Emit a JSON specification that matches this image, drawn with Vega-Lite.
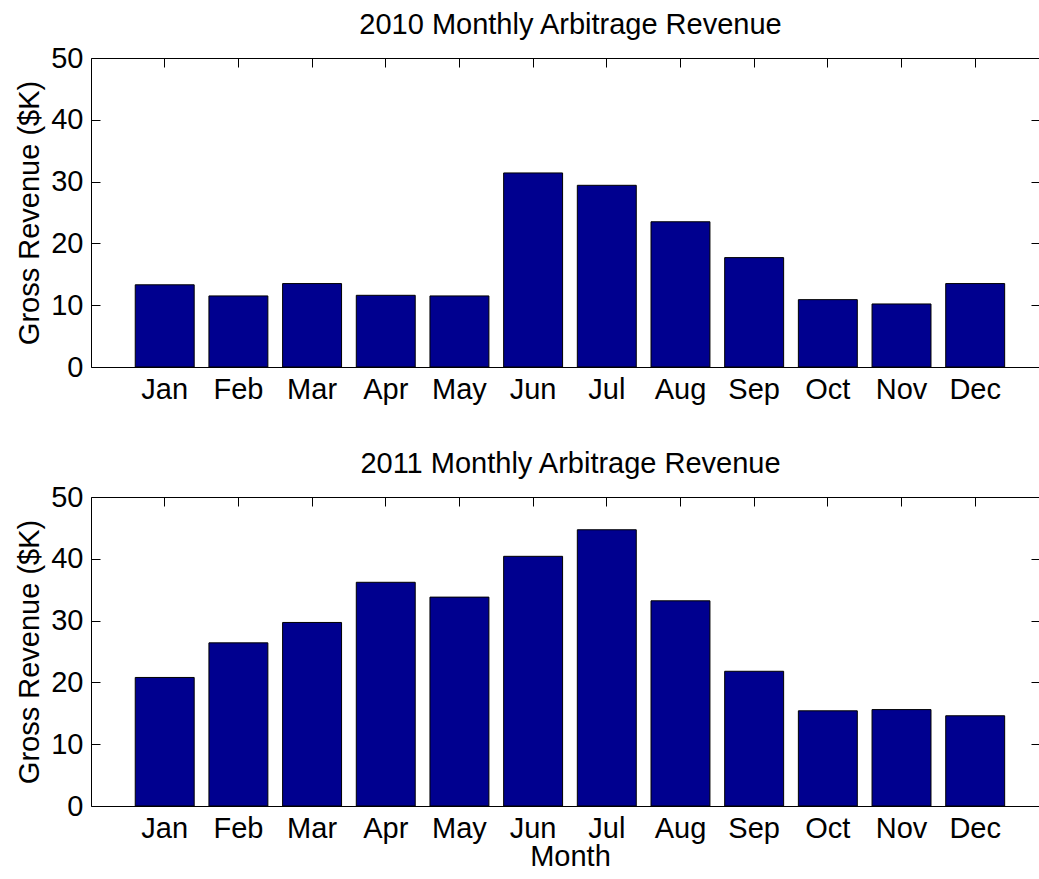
{
  "$schema": "https://vega.github.io/schema/vega-lite/v6.json",
  "padding": {"left": 15, "top": 11, "right": 0, "bottom": 0},
  "background": "white",
  "datasets": {
    "y2010": [
      {"month": "Jan", "revenue": 13.3},
      {"month": "Feb", "revenue": 11.5},
      {"month": "Mar", "revenue": 13.5},
      {"month": "Apr", "revenue": 11.6},
      {"month": "May", "revenue": 11.5},
      {"month": "Jun", "revenue": 31.4},
      {"month": "Jul", "revenue": 29.4},
      {"month": "Aug", "revenue": 23.5},
      {"month": "Sep", "revenue": 17.7},
      {"month": "Oct", "revenue": 10.9},
      {"month": "Nov", "revenue": 10.2},
      {"month": "Dec", "revenue": 13.5}
    ],
    "y2011": [
      {"month": "Jan", "revenue": 20.8},
      {"month": "Feb", "revenue": 26.4},
      {"month": "Mar", "revenue": 29.7},
      {"month": "Apr", "revenue": 36.2},
      {"month": "May", "revenue": 33.8},
      {"month": "Jun", "revenue": 40.4},
      {"month": "Jul", "revenue": 44.7},
      {"month": "Aug", "revenue": 33.2},
      {"month": "Sep", "revenue": 21.8},
      {"month": "Oct", "revenue": 15.4},
      {"month": "Nov", "revenue": 15.6},
      {"month": "Dec", "revenue": 14.6}
    ]
  },
  "config": {
    "font": "Liberation Sans",
    "view": {"stroke": null},
    "axis": {
      "labelFont": "Liberation Sans",
      "titleFont": "Liberation Sans",
      "labelFontSize": 29,
      "titleFontSize": 29,
      "titleFontWeight": "normal",
      "labelColor": "black",
      "titleColor": "black",
      "domainColor": "black",
      "domainWidth": 1,
      "tickColor": "black",
      "tickWidth": 1,
      "grid": false,
      "labelFlush": false,
      "labelOverlap": false
    },
    "title": {"font": "Liberation Sans", "fontSize": 29, "fontWeight": "normal", "color": "black"},
    "concat": {"spacing": 46}
  },
  "vconcat": [
    {
      "title": {"text": "2010 Monthly Arbitrage Revenue", "offset": 4, "dx": 5},
      "width": 949,
      "height": 309,
      "data": {"name": "y2010"},
      "layer": [
        {
          "mark": {"type": "bar", "fill": "#00008F", "stroke": "black", "strokeWidth": 1},
          "encoding": {
            "x": {"field": "month", "type": "nominal", "sort": ["Jan","Feb","Mar","Apr","May","Jun","Jul","Aug","Sep","Oct","Nov","Dec"],
                  "scale": {"paddingInner": 0.2, "paddingOuter": 0.54, "align": 0.556},
                  "axis": {"orient": "bottom", "title": null, "ticks": false, "labelAngle": 0, "labelPadding": 8, "domain": true}},
            "y": {"field": "revenue", "type": "quantitative", "scale": {"domain": [0, 50], "nice": false},
                  "axis": {"orient": "left", "values": [0,10,20,30,40,50], "tickSize": -9, "labelPadding": 17, "title": "Gross Revenue ($K)", "titlePadding": 6, "domain": true}}
          }
        },
        {
          "mark": {"type": "bar", "opacity": 0},
          "encoding": {
            "x": {"field": "month", "type": "nominal", "sort": ["Jan","Feb","Mar","Apr","May","Jun","Jul","Aug","Sep","Oct","Nov","Dec"],
                  "scale": {"paddingInner": 0.2, "paddingOuter": 0.54, "align": 0.556},
                  "axis": {"orient": "top", "title": null, "labels": false, "tickSize": -9, "domain": true}},
            "y": {"field": "revenue", "type": "quantitative", "scale": {"domain": [0, 50], "nice": false},
                  "axis": {"orient": "right", "values": [0,10,20,30,40,50], "labels": false, "title": null, "tickSize": -9, "domain": false}}
          }
        }
      ],
      "resolve": {"axis": {"x": "independent", "y": "independent"}}
    },
    {
      "title": {"text": "2011 Monthly Arbitrage Revenue", "offset": 4, "dx": 5},
      "width": 949,
      "height": 309,
      "data": {"name": "y2011"},
      "layer": [
        {
          "mark": {"type": "bar", "fill": "#00008F", "stroke": "black", "strokeWidth": 1},
          "encoding": {
            "x": {"field": "month", "type": "nominal", "sort": ["Jan","Feb","Mar","Apr","May","Jun","Jul","Aug","Sep","Oct","Nov","Dec"],
                  "scale": {"paddingInner": 0.2, "paddingOuter": 0.54, "align": 0.556},
                  "axis": {"orient": "bottom", "title": "Month", "titleX": 479, "titlePadding": -1, "ticks": false, "labelAngle": 0, "labelPadding": 8, "domain": true}},
            "y": {"field": "revenue", "type": "quantitative", "scale": {"domain": [0, 50], "nice": false},
                  "axis": {"orient": "left", "values": [0,10,20,30,40,50], "tickSize": -9, "labelPadding": 17, "title": "Gross Revenue ($K)", "titlePadding": 6, "domain": true}}
          }
        },
        {
          "mark": {"type": "bar", "opacity": 0},
          "encoding": {
            "x": {"field": "month", "type": "nominal", "sort": ["Jan","Feb","Mar","Apr","May","Jun","Jul","Aug","Sep","Oct","Nov","Dec"],
                  "scale": {"paddingInner": 0.2, "paddingOuter": 0.54, "align": 0.556},
                  "axis": {"orient": "top", "title": null, "labels": false, "tickSize": -9, "domain": true}},
            "y": {"field": "revenue", "type": "quantitative", "scale": {"domain": [0, 50], "nice": false},
                  "axis": {"orient": "right", "values": [0,10,20,30,40,50], "labels": false, "title": null, "tickSize": -9, "domain": false}}
          }
        }
      ],
      "resolve": {"axis": {"x": "independent", "y": "independent"}}
    }
  ]
}
